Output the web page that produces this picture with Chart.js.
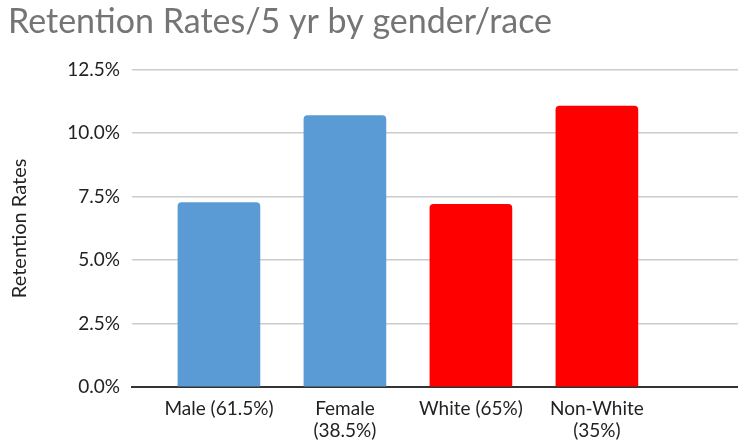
<!DOCTYPE html>
<html>
<head>
<meta charset="utf-8">
<script src="https://cdn.jsdelivr.net/npm/chart.js@4.4.1/dist/chart.umd.min.js"></script>
<style>
  html, body { margin: 0; padding: 0; background: #fff; overflow: hidden; }
  #wrap { width: 738px; height: 444px; position: relative; }
</style>
</head>
<body>
<div id="wrap"><canvas id="retention"></canvas></div>
<script>
// categories (multi-line where the label wraps) and rates in percent
var groups = [["Male (61.5%)"], ["Female", "(38.5%)"], ["White (65%)"], ["Non-White", "(35%)"]];
var rates = [7.27, 10.70, 7.20, 11.07];
var barColors = ["#5b9bd5", "#5b9bd5", "#ff0000", "#ff0000"];
var yTicks = [0, 2.5, 5, 7.5, 10, 12.5];

var points = [];
rates.forEach(function (r, i) {
    points.push({ x: i, y: r });
});

var ctx = document.getElementById("retention").getContext('2d');
var chart = new Chart(ctx, {
    type: 'bar',
    data: {
        datasets: [{
            label: "Retention Rates",
            data: points,
            backgroundColor: barColors,
            barThickness: 82,
            borderRadius: { topLeft: 4, topRight: 4 },
            borderSkipped: 'bottom'
        }]
    },
    options: {
        responsive: true,
        maintainAspectRatio: false,
        animation: false,
        layout: { padding: { top: 0, right: 0, bottom: 0, left: 8 } },
        plugins: {
            legend: { display: false },
            tooltip: { enabled: false },
            title: {
                display: true,
                text: "Retention Rates/5 yr by gender/race",
                align: 'start',
                color: '#757575',
                font: { family: 'Lato', size: 34, weight: 'normal' },
                padding: { top: 2, bottom: 27 }
            }
        },
        scales: {
            // linear x so the plot runs past the last bar on the right
            x: {
                type: 'linear',
                offset: false,
                min: -0.69,
                max: 4.12,
                grid: { display: false, drawTicks: false },
                border: { color: '#333333', width: 2 },
                afterBuildTicks: function (scale) {
                    scale.ticks = groups.map(function (g, i) { return { value: i }; });
                },
                ticks: {
                    color: '#222222',
                    font: { family: 'Lato', size: 19 },
                    padding: 10,
                    maxRotation: 0,
                    autoSkip: false,
                    callback: function (value) {
                        var g = groups[value];
                        return g ? (g.length > 1 ? g : g[0]) : '';
                    }
                },
                afterFit: function (scale) { scale.height = 57; }
            },
            y: {
                min: 0,
                max: 12.5,
                afterBuildTicks: function (scale) {
                    scale.ticks = yTicks.map(function (v) { return { value: v }; });
                },
                grid: { color: '#cccccc', lineWidth: 1.5, drawTicks: false },
                border: { display: false },
                ticks: {
                    color: '#222222',
                    font: { family: 'Lato', size: 19 },
                    padding: 12,
                    callback: function (value) { return value.toFixed(1) + '%'; }
                },
                title: {
                    display: true,
                    text: "Retention Rates",
                    color: '#222222',
                    font: { family: 'Lato', size: 20 },
                    padding: { top: 0, bottom: 0 }
                },
                afterFit: function (scale) { scale.width = 124; }
            }
        }
    }
});
</script>
</body>
</html>
